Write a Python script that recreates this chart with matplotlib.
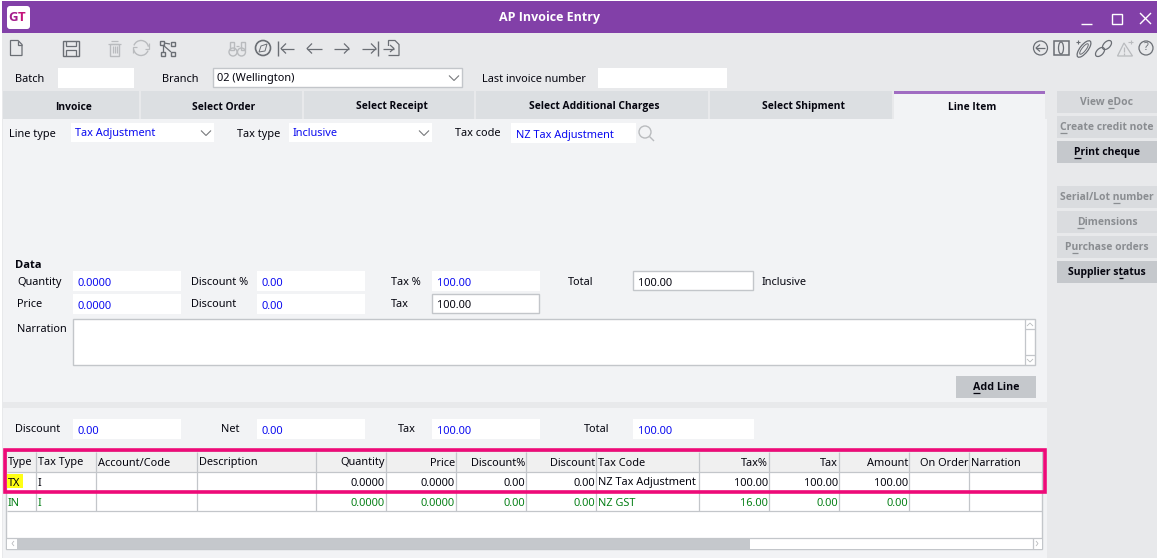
import matplotlib
matplotlib.use("Agg")
import matplotlib.pyplot as plt
from matplotlib.patches import Rectangle, Circle, FancyBboxPatch, Polygon, Arc, Ellipse

# -------------------- Screen contents --------------------

TITLE = "AP Invoice Entry"
TABS = ["Invoice", "Select Order", "Select Receipt", "Select Additional Charges", "Select Shipment", "Line Item"]
SIDE_BUTTONS = ["View eDoc", "Create credit note", "Print cheque", "Serial/Lot number",
                "Dimensions", "Purchase orders", "Supplier status"]
SIDE_UNDERLINE = [5, 0, 0, 11, 0, 1, 10]
SIDE_ENABLED = [False, False, True, False, False, False, True]

COLUMNS = ["Type", "Tax Type", "Account/Code", "Description", "Quantity", "Price", "Discount%",
           "Discount", "Tax Code", "Tax%", "Tax", "Amount", "On Order", "Narration"]
RIGHT_ALIGNED = [False, False, False, False, True, True, True, True, False, True, True, True, True, False]
ROW_TX = ["TX", "I", "", "", "0.0000", "0.0000", "0.00", "0.00", "NZ Tax Adjustment", "100.00", "100.00", "100.00", "", ""]
ROW_IN = ["IN", "I", "", "", "0.0000", "0.0000", "0.00", "0.00", "NZ GST", "16.00", "0.00", "0.00", "", ""]
COL_EDGES = [6, 36, 96, 197, 316, 386, 456, 526, 596, 699, 769, 839, 909, 969, 1042]

PURPLE = "#8240A8"
BG = "#E8E9EB"
PANEL = "#F2F3F5"
TAB_GREY = "#DCDFE2"
BTN_DARK = "#C5C8CC"
BORDER = "#C3C6CA"
ICON = "#6A6E74"
ICON_LIGHT = "#B9BBBE"
BLUE = "#0A0AF0"
GREEN = "#078018"
INK = "#05050F"
PINK = "#EE0A78"

plt.rcParams["font.family"] = ["Noto Sans", "DejaVu Sans"]
plt.rcParams["font.size"] = 7.9

fig = plt.figure(figsize=(11.57, 5.58), dpi=100, facecolor="white")
ax = fig.add_axes([0, 0, 1, 1])
ax.set_xlim(0, 1157)
ax.set_ylim(558, 0)
ax.axis("off")

# -------------------- Helpers --------------------

def box(x0, y0, x1, y1, fc="white", ec="none", lw=1.0, z=1):
    ax.add_patch(Rectangle((x0, y0), x1 - x0, y1 - y0, facecolor=fc, edgecolor=ec, linewidth=lw, zorder=z))

def label(x, y, s, color=INK, ha="left", weight="normal", size=None, z=5):
    # bold comes from Open Sans, Noto Sans here only has the regular cut
    fam = ["Open Sans", "DejaVu Sans"] if weight == "bold" else ["Noto Sans", "DejaVu Sans"]
    return ax.text(x, y + 2.0, s, color=color, ha=ha, va="center", fontweight=weight, fontsize=size, family=fam, zorder=z)

def line(xs, ys, color=ICON, lw=0.9, z=4):
    ax.plot(xs, ys, color=color, linewidth=lw, zorder=z, solid_capstyle="butt", solid_joinstyle="miter")

def ring(cx, cy, r, color=ICON, lw=0.9):
    ax.add_patch(Circle((cx, cy), r, facecolor="none", edgecolor=color, linewidth=lw, zorder=4))

def underline_char(txt, idx, color=INK):
    # measure where the character sits inside the drawn text
    rend = fig.canvas.get_renderer()
    bb = txt.get_window_extent(rend)
    full = txt.get_text()
    probe = ax.text(0, 0, full[:idx] or " ", fontsize=txt.get_fontsize(), fontweight=txt.get_fontweight(),
                    family=txt.get_fontfamily())
    w0 = probe.get_window_extent(rend).width if idx else 0
    probe.set_text(full[:idx + 1])
    w1 = probe.get_window_extent(rend).width
    probe.remove()
    y = txt.get_position()[1] + 5.5
    line([bb.x0 + w0, bb.x0 + w1], [y, y], color=color, lw=0.9, z=6)

def combo(x0, y0, x1, y1, s, color=BLUE, ec="none"):
    box(x0, y0, x1, y1, ec=ec)
    label(x0 + 4, (y0 + y1) / 2 - 1, s, color=color)
    cx = x1 - 8
    my = (y0 + y1) / 2
    line([cx - 5, cx, cx + 5], [my - 2, my + 3, my - 2], color="#77797C", lw=0.8)

def field(x0, y0, x1, y1, s="", color=BLUE, ec="none", dx=5):
    box(x0, y0, x1, y1, ec=ec)
    if s:
        label(x0 + dx, (y0 + y1) / 2 + 0.5, s, color=color)

# -------------------- Window frame --------------------

box(0, 0, 1157, 558, fc=BG, z=0)
box(0, 0, 1157, 1, fc="white", z=0.5)
box(0, 0, 2, 558, fc="white", z=0.5)
box(2, 1, 1157, 33, fc=PURPLE)
ax.add_patch(FancyBboxPatch((7, 6), 23, 23, boxstyle="round,pad=0,rounding_size=3", facecolor="white", edgecolor="none", zorder=2))
ax.text(18, 17.5, "G", color="#A41D8C", ha="right", va="center", fontweight="bold", fontsize=9.5, family="Open Sans", zorder=5)
ax.text(18, 17.5, "T", color="#C4127A", ha="left", va="center", fontweight="bold", fontsize=9.5, family="Open Sans", zorder=5)
label(550, 16, TITLE, color="white", ha="center", weight="bold", size=9)

# window buttons
line([1081, 1092], [24, 24], color="white", lw=1.0)
box(1111.5, 13.5, 1121.5, 23.5, fc="none", ec="white", lw=1.0, z=4)
line([1140, 1151], [13, 24], color="white", lw=1.0)
line([1140, 1151], [24, 13], color="white", lw=1.0)

# -------------------- Toolbar icons --------------------

line([10.5, 10.5, 18, 22, 22, 10.5], [55.5, 40.5, 40.5, 44.5, 55.5, 55.5])   # new
line([18, 18, 22], [40.5, 44.5, 44.5])
box(63, 41, 78.5, 55.5, fc="none", ec=ICON, z=4)                              # save
line([66, 66, 76, 76], [41, 46, 46, 41])
line([66, 66, 76, 76], [55.5, 50, 50, 55.5])
line([108, 121], [43.5, 43.5], color=ICON_LIGHT)                              # delete
line([111, 118], [41, 41], color=ICON_LIGHT)
box(110, 43.5, 119, 55.5, fc="none", ec=ICON_LIGHT, z=4)
for tx in (112.5, 114.5, 116.5):
    line([tx, tx], [46, 53], color=ICON_LIGHT)
ax.add_patch(Arc((141, 48), 15, 15, theta1=200, theta2=350, edgecolor=ICON_LIGHT, linewidth=1, zorder=4))  # refresh
ax.add_patch(Arc((141, 48), 15, 15, theta1=20, theta2=170, edgecolor=ICON_LIGHT, linewidth=1, zorder=4))
line([149, 149, 145], [43, 49, 49], color=ICON_LIGHT)
line([133, 133, 137], [53, 47, 47], color=ICON_LIGHT)
for bx, by in [(160, 41), (170.5, 41.5), (160.5, 51.5), (170.5, 51.5)]:
    box(bx, by, bx + 4, by + 4, fc="none", ec=ICON, z=4)                      # workflow
line([164, 170], [43, 44])
line([163, 171], [45, 52])
line([162.5, 162.5], [45, 51.5])
for cx, sx in ((233, 229.5), (241.5, 241)):
    ring(cx, 52, 4, color=ICON_LIGHT, lw=1)
    box(sx, 42, sx + 4, 50, fc="none", ec=ICON_LIGHT, z=4)
line([236, 239], [46, 46], color=ICON_LIGHT)
ring(263, 48, 7.5, lw=1.2)                                                    # compass
ax.add_patch(Polygon([(267, 44), (265, 51), (259, 52), (261, 46)], closed=True, facecolor="none", edgecolor=ICON, linewidth=0.7, zorder=4))
line([278, 278], [41, 56], lw=1.0)
line([281, 294], [48.5, 48.5])
line([286, 281, 286], [43.5, 48.5, 53.5])
line([307, 322], [48.5, 48.5])
line([312, 307, 312], [43.5, 48.5, 53.5])
line([334, 349], [48.5, 48.5])
line([344, 349, 344], [43.5, 48.5, 53.5])
line([362, 376], [48.5, 48.5])
line([371, 376, 371], [43.5, 48.5, 53.5])
line([377.5, 377.5], [41, 56], lw=1.0)
line([388.5, 388.5, 395, 399, 399, 388.5], [46, 40.5, 40.5, 44.5, 55.5, 55.5])
line([383, 394], [48.5, 48.5])
line([390, 394, 390], [45, 48.5, 52])

ring(1040.5, 48, 7)                                                           # back
line([1036, 1045], [48, 48])
line([1040, 1036, 1040], [44.5, 48, 51.5])
box(1054, 41, 1068.5, 55, fc="none", ec=ICON, lw=1.1, z=4)                    # attachments
ax.add_patch(Ellipse((1061, 48), 5, 12, edgecolor=ICON, facecolor="none", linewidth=0.9, zorder=4))
ax.add_patch(Ellipse((1084, 49), 20, 8, angle=-52, edgecolor=ICON, facecolor="none", linewidth=0.9, zorder=4))
ax.add_patch(Ellipse((1084, 49), 13, 4, angle=-52, edgecolor=ICON, facecolor="none", linewidth=0.7, zorder=4))
line([1076, 1080], [42, 42], lw=0.8)
line([1078, 1078], [40, 44], lw=0.8)
ax.add_patch(Ellipse((1100, 52), 11, 6.5, angle=-45, edgecolor=ICON, facecolor="none", linewidth=0.9, zorder=4))
ax.add_patch(Ellipse((1107, 45), 11, 6.5, angle=-45, edgecolor=ICON, facecolor="none", linewidth=0.9, zorder=4))
ax.add_patch(Polygon([(1124, 43), (1117.5, 56), (1132.5, 56)], closed=True, facecolor="none", edgecolor=ICON_LIGHT, linewidth=0.9, zorder=4))
line([1124, 1124], [47, 52], color=ICON_LIGHT)
line([1124, 1124], [53, 54.5], color=ICON_LIGHT)
line([1128, 1133], [42, 42], color=ICON_LIGHT, lw=0.8)
line([1130.5, 1130.5], [40, 44], color=ICON_LIGHT, lw=0.8)
ring(1146, 48, 7)
ax.text(1146, 48, "?", color=ICON, ha="center", va="center", fontsize=8, zorder=5)

# -------------------- Header fields --------------------

label(15, 77, "Batch")
field(58, 68, 134, 88)
label(162, 77, "Branch")
combo(213, 68, 462, 87, "02 (Wellington)", color=INK, ec=BORDER)
label(482, 77, "Last invoice number")
field(598, 68, 727, 88)

# -------------------- Tabs --------------------

box(3, 119, 1047, 402, fc=PANEL)
box(3, 408, 1047, 558, fc=PANEL)
tab_edges = [(3, 139), (141, 302), (304, 474), (476, 708), (710, 892), (894, 1045)]
for i, (name, (x0, x1)) in enumerate(zip(TABS, tab_edges)):
    active = i == len(TABS) - 1
    box(x0, 91, x1, 119, fc=PANEL if active else TAB_GREY)
    if active:
        box(x0, 91, x1, 93.5, fc="#A06CC2", z=2)
    label((x0 + x1) / 2 + 2.5, 105, name, ha="center", weight="bold", size=7.4)

label(9, 132, "Line type")
combo(71, 123, 214, 142, "Tax Adjustment")
label(237, 132, "Tax type")
combo(289, 123, 432, 142, "Inclusive")
label(455, 132, "Tax code")
field(511, 123, 636, 143, "NZ Tax Adjustment")
ring(645, 132, 6, color=ICON_LIGHT, lw=1)
line([649.5, 654], [136.5, 141], color=ICON_LIGHT, lw=1)

# -------------------- Data block --------------------

label(15, 263.5, "Data", weight="bold", size=8)
label(17, 280.2, "Quantity")
field(73, 271, 181, 291, "0.0000")
label(191, 280.2, "Discount %")
field(257, 271, 365, 291, "0.00")
label(391, 280.2, "Tax %")
field(432, 271, 540, 291, "100.00")
label(568, 280.2, "Total")
field(633, 271, 753, 290, "100.00", color=INK, ec=BORDER)
label(762, 280.2, "Inclusive")

label(17, 302.7, "Price")
field(73, 294, 181, 314, "0.0000")
label(191, 302.7, "Discount")
field(257, 294, 365, 314, "0.00")
label(391, 302.7, "Tax")
field(432, 294, 539, 313, "100.00", color=INK, ec=BORDER)

label(17, 327.5, "Narration")
box(73, 319, 1035, 365, ec=BORDER)
line([1024.5, 1024.5], [319, 365], color=BORDER)
line([1024.5, 1035], [329, 329], color=BORDER)
line([1024.5, 1035], [355, 355], color=BORDER)
line([1027, 1030, 1033], [326, 323, 326], color="#B9BBBE", lw=0.6)
line([1027, 1030, 1033], [359, 362, 359], color="#B9BBBE", lw=0.6)

box(956, 376, 1036, 398, fc=BTN_DARK)
t = label(996, 385.5, "Add Line", ha="center", weight="bold", size=7.7)
underline_char(t, 0)

# -------------------- Totals --------------------

label(15, 427.5, "Discount")
field(73, 419, 181, 439, "0.00")
label(221, 427.5, "Net")
field(257, 419, 365, 439, "0.00")
label(398, 427.5, "Tax")
field(432, 419, 540, 439, "100.00")
label(584, 427.5, "Total")
field(633, 419, 754, 439, "100.00")

# -------------------- Side buttons --------------------

side_tops = [91, 116, 141, 186, 211, 236, 261]
for name, top, idx, enabled in zip(SIDE_BUTTONS, side_tops, SIDE_UNDERLINE, SIDE_ENABLED):
    box(1057, top, 1157, top + 22, fc=BTN_DARK if enabled else "#DADCDF")
    col = INK if enabled else "#8A8D91"
    t = label(1107, top + 9.5, name, color=col, ha="center", weight="bold", size=7.5)
    underline_char(t, idx, color=col)

# -------------------- Grid --------------------

box(6, 451, 1042, 549, ec=BORDER, lw=1.0, z=1)
box(6.5, 451.5, 1041.5, 472, fc="#F0F0F0", z=1.5)
for x in COL_EDGES[1:-1]:
    line([x, x], [452, 511], color=BORDER, z=2)
for y in (472, 491, 511):
    line([7, 1042], [y, y], color=BORDER, z=2)

box(7, 474, 23, 488, fc="#FFFF14", z=1.6)

def grid_row(y, cells, color):
    for i, s in enumerate(cells):
        if not s:
            continue
        if RIGHT_ALIGNED[i]:
            label(COL_EDGES[i + 1] - 1, y, s, color=color, ha="right")
        else:
            label(COL_EDGES[i] + 2, y, s, color=color)

grid_row(461, COLUMNS, INK)
grid_row(481, ROW_TX, INK)
grid_row(501, ROW_IN, GREEN)

box(6.5, 538, 1041.5, 549, fc="white", z=1.5)
box(17, 538, 750, 549, fc=BTN_DARK, z=2)
line([6, 1042], [538, 538], color=BORDER, z=2)
line([1033, 1033], [538, 549], color=BORDER, z=2)
line([14, 12, 14], [541, 543.5, 546], color="#B9BBBE", lw=0.6)
line([1036, 1038, 1036], [541, 543.5, 546], color="#B9BBBE", lw=0.6)

# highlight around the first row
box(5, 449.5, 1045, 492, fc="none", ec=PINK, lw=2.6, z=7)

fig.savefig("out.png", dpi=100)
